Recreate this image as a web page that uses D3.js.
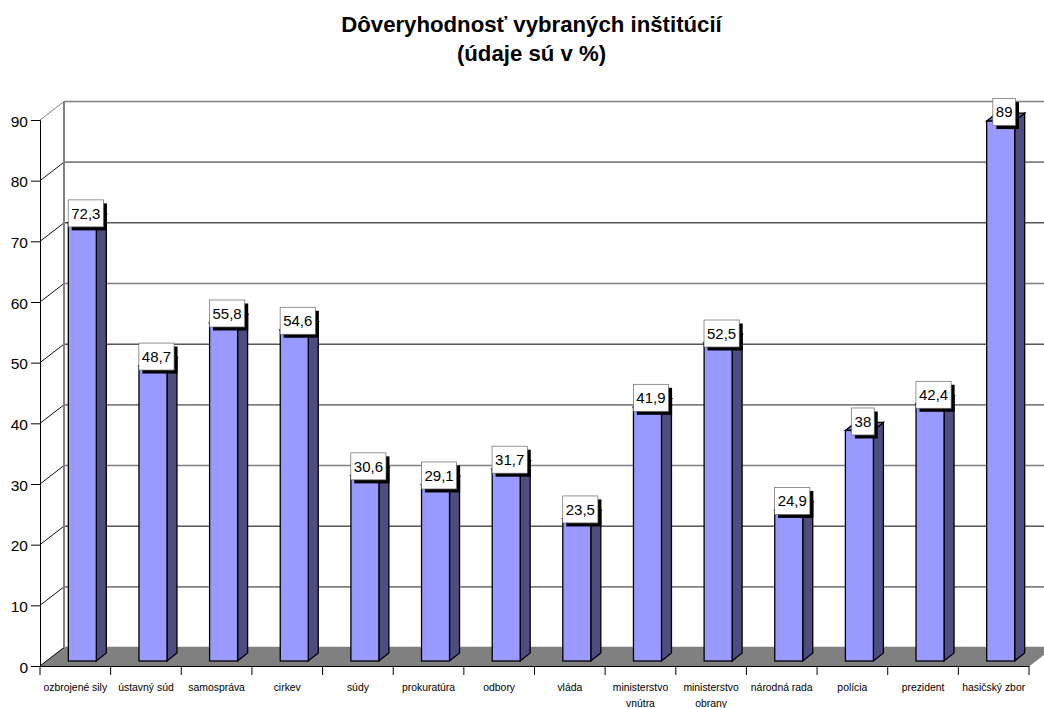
<!DOCTYPE html>
<html>
<head>
<meta charset="utf-8">
<script src="https://cdn.jsdelivr.net/npm/d3@7"></script>
<style>
  html, body { margin: 0; padding: 0; background: #fff; overflow: hidden; }
  text { font-family: "Liberation Sans", Arial, sans-serif; fill: #000; }
</style>
</head>
<body>
<div id="container"></div>
<script>
//---------- DATA ----------//
const categories = ["ozbrojené sily", "ústavný súd", "samospráva", "cirkev", "súdy", "prokuratúra", "odbory",
    "vláda", "ministerstvo vnútra", "ministerstvo obrany", "národná rada", "polícia", "prezident", "hasičský zbor"];
const values = [72.3, 48.7, 55.8, 54.6, 30.6, 29.1, 31.7, 23.5, 41.9, 52.5, 24.9, 38, 42.4, 89];
const valueLabels = ["72,3", "48,7", "55,8", "54,6", "30,6", "29,1", "31,7", "23,5", "41,9", "52,5", "24,9", "38", "42,4", "89"];
const yTicks = [0, 10, 20, 30, 40, 50, 60, 70, 80, 90];
const darkGridTicks = [20, 50, 70];   // these come out black in the picture, the rest gray
const titleLines = ["Dôveryhodnosť vybraných inštitúcií", "(údaje sú v %)"];

//---------- SVG ----------//
const width = 1044;
const height = 708;
const plotLeft = 40, plotRight = 1029, plotBottom = 666, plotTop = 120;
const depthX = 24, depthY = 18.5; // wall offset
const barDX = 10, barDY = 8;      // bar side offset
const barLift = 5;                // bar base sits on the floor, behind the front edge

const svg = d3.select("#container").append("svg")
    .attr("width", width)
    .attr("height", height);

//---------- SCALES ----------//
const x = d3.scaleBand().domain(categories).range([plotLeft, plotRight]);
const y = d3.scaleLinear().domain([0, 90]).range([plotBottom, plotTop]);
const barW = 28;
const barX = d => x(d.c) + (x.bandwidth() - barW) / 2 + 7;
const barY = v => y(v) - barLift;

const data = categories.map((c, i) => ({c: c, v: values[i], label: valueLabels[i]}));

//---------- WALLS ----------//
const path = pts => "M" + pts.map(p => p.join(",")).join("L") + "Z";

// floor
svg.append("path")
    .attr("d", path([[plotLeft, plotBottom], [plotLeft + depthX, plotBottom - depthY], [plotRight + depthX, plotBottom - depthY], [plotRight, plotBottom]]))
    .attr("fill", "#808080")
    .attr("stroke", "#808080");

// grid lines on the back wall and side wall
const grid = svg.append("g");
grid.selectAll("line.back")
    .data(yTicks)
    .join("line")
    .attr("class", "back")
    .attr("x1", plotLeft + depthX)
    .attr("x2", plotRight + depthX)
    .attr("y1", d => y(d) - depthY)
    .attr("y2", d => y(d) - depthY)
    .attr("stroke", d => darkGridTicks.includes(d) ? "#000" : "#808080")
    .attr("stroke-width", d => darkGridTicks.includes(d) ? 1 : 1.6);
grid.selectAll("line.side")
    .data(yTicks)
    .join("line")
    .attr("class", "side")
    .attr("x1", plotLeft)
    .attr("x2", plotLeft + depthX)
    .attr("y1", d => y(d))
    .attr("y2", d => y(d) - depthY)
    .attr("stroke", d => d == 90 ? "#808080" : "#111")
    .attr("stroke-width", 1);
grid.append("line")
    .attr("x1", plotLeft + depthX).attr("x2", plotLeft + depthX)
    .attr("y1", y(90) - depthY).attr("y2", plotBottom - depthY)
    .attr("stroke", "#808080")
    .attr("stroke-width", 2);

//---------- BARS ----------//
const bars = svg.append("g").selectAll("g")
    .data(data)
    .join("g");

bars.append("path")  // side
    .attr("d", d => path([[barX(d) + barW, barY(d.v)], [barX(d) + barW + barDX, barY(d.v) - barDY],
        [barX(d) + barW + barDX, barY(0) - barDY], [barX(d) + barW, barY(0)]]))
    .attr("fill", "#4d4d80")
    .attr("stroke", "#000")
    .attr("stroke-width", 1.3);
bars.append("path")  // top
    .attr("d", d => path([[barX(d), barY(d.v)], [barX(d) + barDX, barY(d.v) - barDY],
        [barX(d) + barW + barDX, barY(d.v) - barDY], [barX(d) + barW, barY(d.v)]]))
    .attr("fill", "#7373bf")
    .attr("stroke", "#000")
    .attr("stroke-width", 1.3);
bars.append("rect")  // front
    .attr("x", d => barX(d))
    .attr("y", d => barY(d.v))
    .attr("width", barW)
    .attr("height", d => barY(0) - barY(d.v))
    .attr("fill", "#9999ff")
    .attr("stroke", "#000")
    .attr("stroke-width", 1.3);

//---------- AXES ----------//
const yAxis = d3.axisLeft(y).tickValues(yTicks).tickSize(9).tickPadding(3);
const yG = svg.append("g").attr("transform", `translate(${plotLeft},0)`).call(yAxis);
yG.selectAll("text").style("font-size", "15.5px").attr("dy", "0.4em");
yG.select(".domain").attr("stroke", "#000");

const xAxisLine = svg.append("g");
xAxisLine.append("line")
    .attr("x1", plotLeft).attr("x2", plotRight)
    .attr("y1", plotBottom + 0.5).attr("y2", plotBottom + 0.5)
    .attr("stroke", "#000");
xAxisLine.selectAll("line.tick")
    .data(categories.concat(["end"]))
    .join("line")
    .attr("class", "tick")
    .attr("x1", (d, i) => plotLeft + i * x.bandwidth())
    .attr("x2", (d, i) => plotLeft + i * x.bandwidth())
    .attr("y1", plotBottom)
    .attr("y2", plotBottom + 9)
    .attr("stroke", "#000");

// category labels, wrapped on two lines where the original wraps
svg.append("g").selectAll("text")
    .data(categories)
    .join("text")
    .attr("text-anchor", "middle")
    .style("font-size", "10.4px")
    .each(function(d) {
        const lines = d.startsWith("ministerstvo") ? d.split(" ") : [d];
        d3.select(this).selectAll("tspan")
            .data(lines)
            .join("tspan")
            .attr("x", x(d) + x.bandwidth() / 2)
            .attr("y", (l, i) => 691 + i * 16)
            .text(l => l);
    });

//---------- VALUE LABELS ----------//
const labels = svg.append("g").selectAll("g")
    .data(data)
    .join("g")
    .attr("transform", d => `translate(${barX(d) + barW / 2 + 3.5},${barY(d.v) - 9})`);
labels.append("text")
    .attr("text-anchor", "middle")
    .attr("dy", "0.36em")
    .style("font-size", "15px")
    .text(d => d.label);
labels.each(function() {
    const g = d3.select(this);
    const w = g.select("text").node().getBBox().width + 6;
    const h = 27;
    g.insert("rect", "text")
        .attr("x", -w / 2 + 3.5).attr("y", -h / 2 + 3.5)
        .attr("width", w).attr("height", h)
        .attr("fill", "#000");
    g.insert("rect", "text")
        .attr("x", -w / 2).attr("y", -h / 2)
        .attr("width", w).attr("height", h)
        .attr("fill", "#fff")
        .attr("stroke", "#666")
        .attr("stroke-width", 0.7);
});

//---------- TITLE ----------//
svg.append("g").selectAll("text")
    .data(titleLines)
    .join("text")
    .attr("x", 531.5)
    .attr("y", (d, i) => 32 + i * 29)
    .attr("text-anchor", "middle")
    .style("font-size", "22.2px")
    .style("font-weight", "bold")
    .text(d => d);
</script>
</body>
</html>
